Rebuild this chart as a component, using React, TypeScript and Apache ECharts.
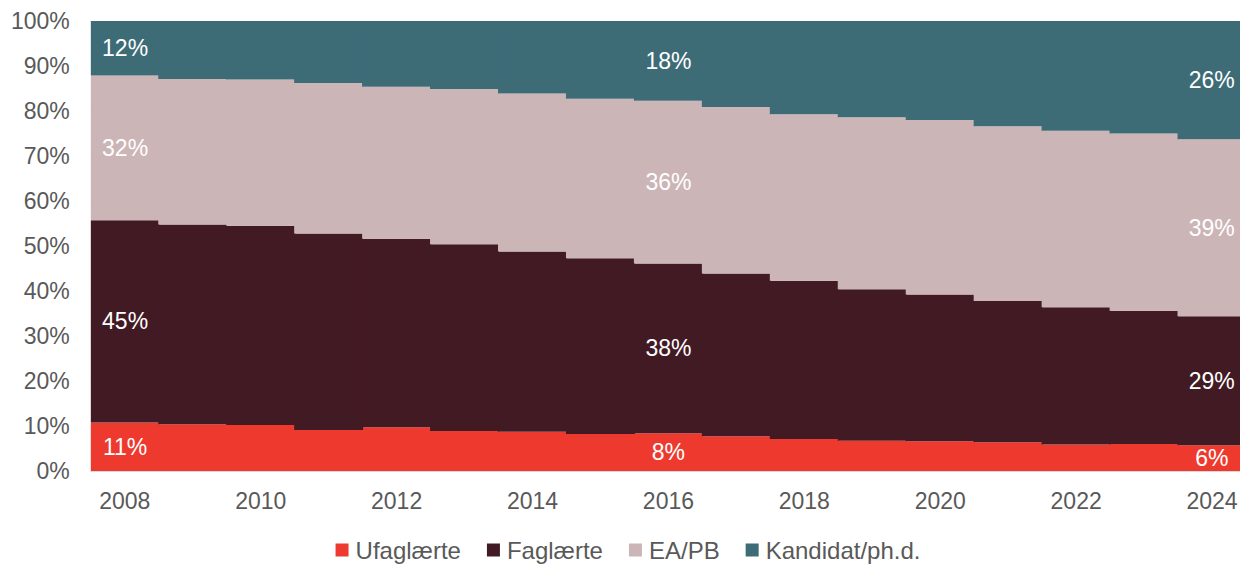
import React, { useEffect, useRef } from "react";
import * as echarts from "echarts";

const years = ["2008","2009","2010","2011","2012","2013","2014","2015","2016","2017","2018","2019","2020","2021","2022","2023","2024"];
const ufaglaerte = [10.8,10.4,10.2,9.1,9.7,8.9,8.7,8.2,8.4,7.7,7.1,6.7,6.6,6.4,5.9,6.0,5.7];
const faglaerte = [44.9,44.4,44.3,43.7,41.9,41.5,40.1,39.1,37.7,36.2,35.2,33.7,32.6,31.4,30.5,29.6,28.7];
const eapb = [32.2,32.3,32.5,33.4,33.8,34.5,35.1,35.4,36.2,37.0,37.0,38.2,38.8,38.8,39.2,39.4,39.3];
const kandidat = [12.1,12.9,13.0,13.8,14.6,15.1,16.1,17.3,17.7,19.1,20.7,21.4,22.0,23.4,24.4,25.0,26.3];
const labelledIdx = [0, 8, 16];

const seriesDefs = [
  { name: "Ufaglærte", data: ufaglaerte, color: "#EE3A2E" },
  { name: "Faglærte", data: faglaerte, color: "#421A24" },
  { name: "EA/PB", data: eapb, color: "#CCB5B7" },
  { name: "Kandidat/ph.d.", data: kandidat, color: "#3D6C77" },
];

export default function App() {
  const ref = useRef<HTMLDivElement>(null);
  useEffect(() => {
    if (!ref.current) return;
    const chart = echarts.init(ref.current, null, { renderer: "svg" });
    const font = "Liberation Sans, Arial, sans-serif";
    const fs = 23;
    chart.setOption({
      animation: false,
      textStyle: { fontFamily: font },
      grid: { left: 81, right: 2, top: 13, bottom: 94 },
      legend: {
        top: 530,
        left: "center",
        padding: 0,
        itemWidth: 13,
        itemHeight: 13,
        itemGap: 26,
        icon: "rect",
        textStyle: { fontSize: 24, color: "#595959", fontFamily: font, padding: [0, 0, 0, 2] },
        data: seriesDefs.map((s) => s.name),
      },
      xAxis: {
        type: "category",
        data: years,
        axisTick: { show: false },
        axisLine: { lineStyle: { color: "#D9D9D9" } },
        axisLabel: { interval: 1, fontSize: fs, color: "#595959", margin: 18, fontFamily: font },
      },
      yAxis: {
        type: "value",
        min: 0,
        max: 100,
        interval: 10,
        axisLabel: { formatter: "{value}%", fontSize: fs, color: "#595959", margin: 21, fontFamily: font },
        splitLine: { lineStyle: { color: "#D9D9D9" } },
        axisLine: { show: false },
        axisTick: { show: false },
      },
      series: seriesDefs.map((s) => ({
        name: s.name,
        type: "bar",
        stack: "total",
        barWidth: 69,
        data: s.data,
        itemStyle: { color: s.color },
        label: {
          show: true,
          position: "inside",
          color: "#FFFFFF",
          fontSize: fs,
          fontFamily: font,
          formatter: (p: any) => (labelledIdx.includes(p.dataIndex) ? Math.round(p.value) + "%" : ""),
        },
      })),
    });
    return () => chart.dispose();
  }, []);
  return <div ref={ref} style={{ width: 1240, height: 557 }} />;
}
